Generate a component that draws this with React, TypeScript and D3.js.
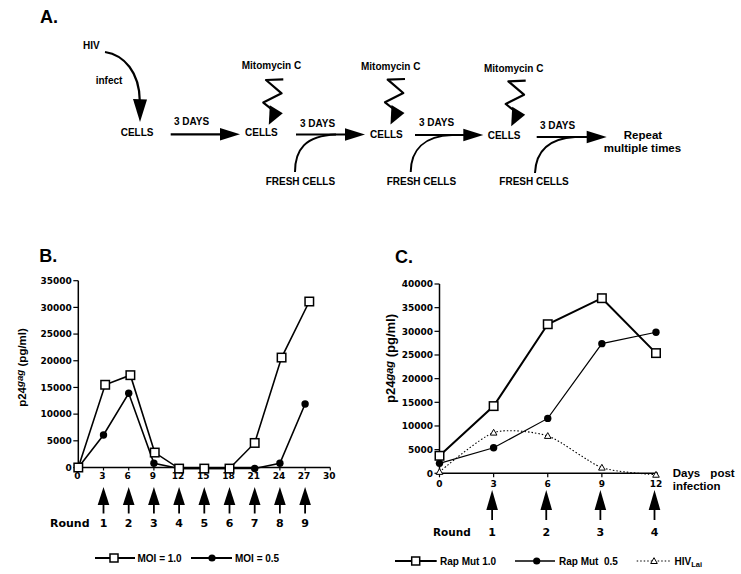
import React from "react";
import * as d3 from "d3";

const W = 741;
const H = 574;
const SANS = "'Liberation Sans', Arial, Helvetica, sans-serif";
const WIDE = "'DejaVu Sans', Verdana, sans-serif";

// ---------- Panel B data ----------
const bSquareDays = [0, 3.2, 6.2, 9.1, 12, 15, 18, 21, 24.2, 27.5];
const bMoi10 = [0, 15500, 17300, 2800, -200, -200, -200, 4600, 20600, 31100];
const bCircleDays = [0, 3, 6, 9, 12, 15, 18, 21, 24, 27];
const bMoi05 = [0, 6100, 13900, 800, -200, -200, -200, -200, 800, 11900];
const bXTicks = [0, 3, 6, 9, 12, 15, 18, 21, 24, 27, 30];
const bYTicks = [0, 5000, 10000, 15000, 20000, 25000, 30000, 35000];
const bRoundDays = [3, 6, 9, 12, 15, 18, 21, 24, 27];
const bRoundLabels = ["1", "2", "3", "4", "5", "6", "7", "8", "9"];
const bLegend = ["MOI = 1.0", "MOI = 0.5"];

// ---------- Panel C data ----------
const cDays = [0, 3, 6, 9, 12];
const cRap10 = [3700, 14200, 31500, 37000, 25400];
const cRap05 = [2100, 5400, 11600, 27400, 29800];
const cHivLai = [300, 8600, 7900, 1200, -300];
const cXTicks = [0, 3, 6, 9, 12];
const cYTicks = [0, 5000, 10000, 15000, 20000, 25000, 30000, 35000, 40000];
const cRoundDays = [3, 6, 9, 12];
const cRoundLabels = ["1", "2", "3", "4"];
const cLegend = ["Rap Mut 1.0", "Rap Mut  0.5", "HIV"];

// ---------- Panel A diagram text ----------
const cellsLabel = "CELLS";
const daysLabel = "3 DAYS";
const mitoLabel = "Mitomycin C";
const freshLabel = "FRESH CELLS";

// layout for panel A
const cellsPos = [
  [120.7, 136.3],
  [245, 136.3],
  [370, 137.6],
  [487.7, 138.6],
];
const daysPos = [
  [174, 125.3],
  [300, 127],
  [419, 126.3],
  [540, 129.3],
];
const arrowsA = [
  [170.7, 240, 134.3],
  [296, 365, 134.5],
  [415, 483.3, 135],
  [536.7, 606.7, 137],
];
const mitoPos = [
  [241.7, 69.3],
  [361, 70.3],
  [484, 72],
];
const zigAnchors = [
  [283.3, 79.3],
  [405, 79],
  [525.7, 80.7],
];
const freshPos = [
  [265.7, 184.6],
  [386.7, 184.6],
  [499.3, 185.3],
];
const freshCurves = [
  "M295,172 C295,150 305,135.5 336,134.5",
  "M410.7,172 C411,150 424,136 452,135",
  "M535,173 C536,151 549,138.5 575,137",
];

function HArrow({ x1, x2, y }: { x1: number; x2: number; y: number }) {
  return (
    <g>
      <line x1={x1} y1={y} x2={x2 - 16} y2={y} stroke="#000" strokeWidth={2.2} />
      <polygon points={`${x2},${y} ${x2 - 20},${y - 6.2} ${x2 - 20},${y + 6.2}`} fill="#000" />
    </g>
  );
}

function Zig({ ax, ay }: { ax: number; ay: number }) {
  const pts: [number, number][] = [
    [0, 0],
    [-17.3, 0.7],
    [-1.7, 14],
    [-20, 23.3],
    [-11.5, 30],
  ];
  const d = "M" + pts.map((p) => `${ax + p[0]},${ay + p[1]}`).join(" L");
  return (
    <g>
      <path d={d} fill="none" stroke="#000" strokeWidth={2.2} strokeLinejoin="round" />
      <polygon
        points={`${ax - 13.5},${ay + 26} ${ax - 0.5},${ay + 34} ${ax - 14.5},${ay + 45.5}`}
        fill="#000"
      />
    </g>
  );
}

function UpArrow({ x, tip, base, end }: { x: number; tip: number; base: number; end: number }) {
  return (
    <g>
      <line x1={x} y1={base - 1} x2={x} y2={end} stroke="#000" strokeWidth={1.8} />
      <polygon points={`${x},${tip} ${x - 5.8},${base} ${x + 5.8},${base}`} fill="#000" />
    </g>
  );
}

function Square({ x, y, s = 8.5 }: { x: number; y: number; s?: number }) {
  return (
    <rect x={x - s / 2} y={y - s / 2} width={s} height={s} fill="#fff" stroke="#000" strokeWidth={1.5} />
  );
}

function Dot({ x, y, r = 3.7 }: { x: number; y: number; r?: number }) {
  return <circle cx={x} cy={y} r={r} fill="#000" />;
}

function Tri({ x, y }: { x: number; y: number }) {
  return (
    <polygon
      points={`${x},${y - 3.3} ${x - 3.3},${y + 2.5} ${x + 3.3},${y + 2.5}`}
      fill="#fff"
      stroke="#000"
      strokeWidth={1}
    />
  );
}

function YLabel({ x, y, size }: { x: number; y: number; size: number }) {
  return (
    <text
      transform={`translate(${x},${y}) rotate(-90)`}
      textAnchor="middle"
      fontFamily={SANS}
      fontWeight="bold"
      fontSize={size}
    >
      p24
      <tspan fontStyle="italic" fontSize={size * 0.85} dy={-2.5}>
        gag
      </tspan>
      <tspan dy={2.5}> (pg/ml)</tspan>
    </text>
  );
}

function PanelA() {
  return (
    <g fontFamily={SANS} fontWeight="bold" fontSize={10}>
      <text x={40} y={22.7} fontSize={18}>
        A.
      </text>
      <text x={83} y={48.6}>HIV</text>
      <text x={95.7} y={84.3}>infect</text>
      <path d="M105,52 C124,55 139.5,72 139.8,101" fill="none" stroke="#000" strokeWidth={2.2} />
      <polygon points="133,99 147,99.5 140,122" fill="#000" />
      {cellsPos.map((p, i) => (
        <text key={"c" + i} x={p[0]} y={p[1]}>
          {cellsLabel}
        </text>
      ))}
      {daysPos.map((p, i) => (
        <text key={"d" + i} x={p[0]} y={p[1]}>
          {daysLabel}
        </text>
      ))}
      {arrowsA.map((a, i) => (
        <HArrow key={"a" + i} x1={a[0]} x2={a[1]} y={a[2]} />
      ))}
      {mitoPos.map((p, i) => (
        <text key={"m" + i} x={p[0]} y={p[1]}>
          {mitoLabel}
        </text>
      ))}
      {zigAnchors.map((p, i) => (
        <Zig key={"z" + i} ax={p[0]} ay={p[1]} />
      ))}
      {freshPos.map((p, i) => (
        <text key={"f" + i} x={p[0]} y={p[1]}>
          {freshLabel}
        </text>
      ))}
      {freshCurves.map((d, i) => (
        <path key={"fc" + i} d={d} fill="none" stroke="#000" strokeWidth={2} />
      ))}
      <text x={643} y={138.6} fontSize={11.5} textAnchor="middle">
        Repeat
      </text>
      <text x={642.5} y={151.8} fontSize={11.5} textAnchor="middle">
        multiple times
      </text>
    </g>
  );
}

function PanelB() {
  const x = d3.scaleLinear().domain([0, 30]).range([78.3, 330.3]);
  const y = d3.scaleLinear().domain([0, 35000]).range([467.5, 280.7]);
  const line10 = d3
    .line<number>()
    .x((_, i) => x(bSquareDays[i]))
    .y((v) => y(v));
  const line05 = d3
    .line<number>()
    .x((_, i) => x(bCircleDays[i]))
    .y((v) => y(v));
  const y0 = y(0);
  return (
    <g>
      <text x={39.3} y={261.7} fontFamily={SANS} fontWeight="bold" fontSize={18}>
        B.
      </text>
      <line x1={x(0)} y1={y(35000)} x2={x(0)} y2={y0} stroke="#000" strokeWidth={1.5} />
      <line x1={x(0)} y1={y0} x2={x(30)} y2={y0} stroke="#000" strokeWidth={1.5} />
      {bYTicks.map((t) => (
        <g key={"by" + t}>
          <line x1={x(0) - 5} x2={x(0)} y1={y(t)} y2={y(t)} stroke="#000" strokeWidth={1.2} />
          <text
            x={x(0) - 6.5}
            y={y(t) + 3.3}
            textAnchor="end"
            fontFamily={WIDE}
            fontWeight="bold"
            fontSize={9}
          >
            {t}
          </text>
        </g>
      ))}
      {bXTicks.map((t) => (
        <g key={"bx" + t}>
          <line x1={x(t)} x2={x(t)} y1={y0} y2={y0 + 3} stroke="#000" strokeWidth={1.2} />
          <text
            x={x(t) - 1}
            y={479.3}
            textAnchor="middle"
            fontFamily={WIDE}
            fontWeight="bold"
            fontSize={9}
          >
            {t}
          </text>
        </g>
      ))}
      <YLabel x={25.5} y={367.5} size={11.5} />
      <path d={line05(bMoi05) || ""} fill="none" stroke="#000" strokeWidth={1.6} />
      <path d={line10(bMoi10) || ""} fill="none" stroke="#000" strokeWidth={1.6} />
      {bMoi05.map((v, i) => (
        <Dot key={"bc" + i} x={x(bCircleDays[i])} y={y(v)} />
      ))}
      {bMoi10.map((v, i) => (
        <Square key={"bs" + i} x={x(bSquareDays[i])} y={y(v)} />
      ))}
      {bRoundDays.map((d, i) => (
        <g key={"br" + i}>
          <UpArrow x={x(d)} tip={487} base={505} end={513.5} />
          <text
            x={x(d)}
            y={527}
            textAnchor="middle"
            fontFamily={WIDE}
            fontWeight="bold"
            fontSize={11}
          >
            {bRoundLabels[i]}
          </text>
        </g>
      ))}
      <text x={50} y={527} fontFamily={WIDE} fontWeight="bold" fontSize={11}>
        Round
      </text>
      <g fontFamily={SANS} fontWeight="bold" fontSize={10}>
        <line x1={95} x2={135} y1={558} y2={558} stroke="#000" strokeWidth={1.8} />
        <Square x={114} y={558} s={8} />
        <text x={137.5} y={561.6}>
          {bLegend[0]}
        </text>
        <line x1={191} x2={232} y1={558} y2={558} stroke="#000" strokeWidth={1.8} />
        <Dot x={212} y={558} r={3.6} />
        <text x={235} y={561.6}>
          {bLegend[1]}
        </text>
      </g>
    </g>
  );
}

function PanelC() {
  const x = d3.scaleLinear().domain([0, 12]).range([439.5, 656]);
  const y = d3.scaleLinear().domain([0, 40000]).range([473.3, 284]);
  const mk = (curve: d3.CurveFactory) =>
    d3
      .line<number>()
      .x((_, i) => x(cDays[i]))
      .y((v) => y(v))
      .curve(curve);
  const lin = mk(d3.curveLinear);
  const smooth = mk(d3.curveCardinal.tension(0.3));
  const y0 = y(0);
  return (
    <g>
      <text x={395} y={263.3} fontFamily={SANS} fontWeight="bold" fontSize={18}>
        C.
      </text>
      <line x1={x(0)} y1={y(40000)} x2={x(0)} y2={y0} stroke="#000" strokeWidth={1.5} />
      <line x1={x(0)} y1={y0} x2={x(12) + 2} y2={y0} stroke="#000" strokeWidth={1.5} />
      {cYTicks.map((t) => (
        <g key={"cy" + t}>
          <line x1={x(0) - 5} x2={x(0)} y1={y(t)} y2={y(t)} stroke="#000" strokeWidth={1.2} />
          <text
            x={x(0) - 6.5}
            y={y(t) + 3.3}
            textAnchor="end"
            fontFamily={WIDE}
            fontWeight="bold"
            fontSize={9}
          >
            {t}
          </text>
        </g>
      ))}
      {cXTicks.map((t) => (
        <g key={"cx" + t}>
          <line x1={x(t)} x2={x(t)} y1={y0} y2={y0 + 4} stroke="#000" strokeWidth={1.2} />
          <text
            x={x(t)}
            y={487}
            textAnchor="middle"
            fontFamily={WIDE}
            fontWeight="bold"
            fontSize={9}
          >
            {t}
          </text>
        </g>
      ))}
      <g fontFamily={SANS} fontWeight="bold" fontSize={11.5}>
        <text x={672.7} y={477.3} wordSpacing={7}>
          Days post
        </text>
        <text x={672.7} y={490.3}>
          infection
        </text>
      </g>
      <YLabel x={395} y={358.5} size={13} />
      <path
        d={smooth(cHivLai) || ""}
        fill="none"
        stroke="#000"
        strokeWidth={1.1}
        strokeDasharray="1.5,2"
      />
      <path d={lin(cRap05) || ""} fill="none" stroke="#000" strokeWidth={1.2} />
      <path d={lin(cRap10) || ""} fill="none" stroke="#000" strokeWidth={2} />
      {cHivLai.map((v, i) => (
        <Tri key={"ct" + i} x={x(cDays[i])} y={y(v)} />
      ))}
      {cRap05.map((v, i) => (
        <Dot key={"cc" + i} x={x(cDays[i])} y={y(v)} />
      ))}
      {cRap10.map((v, i) => (
        <Square key={"cs" + i} x={x(cDays[i])} y={y(v)} />
      ))}
      {cRoundDays.map((d, i) => (
        <g key={"cr" + i}>
          <UpArrow x={x(d) - 1.5} tip={490} base={510} end={520} />
          <text
            x={x(d) - 1.5}
            y={535.7}
            textAnchor="middle"
            fontFamily={WIDE}
            fontWeight="bold"
            fontSize={11}
          >
            {cRoundLabels[i]}
          </text>
        </g>
      ))}
      <text x={433} y={535.7} fontFamily={WIDE} fontWeight="bold" fontSize={10.5}>
        Round
      </text>
      <g fontFamily={SANS} fontWeight="bold" fontSize={10}>
        <line x1={395} x2={436.7} y1={561} y2={561} stroke="#000" strokeWidth={2} />
        <Square x={415.7} y={561} s={8} />
        <text x={440} y={564.6} style={{ whiteSpace: "pre" }}>
          {cLegend[0]}
        </text>
        <line x1={515} x2={555} y1={561} y2={561} stroke="#000" strokeWidth={1.3} />
        <Dot x={536.7} y={561} r={3.6} />
        <text x={559} y={564.6} style={{ whiteSpace: "pre" }}>
          {cLegend[1]}
        </text>
        <line
          x1={636.7}
          x2={671.7}
          y1={561}
          y2={561}
          stroke="#000"
          strokeWidth={1.2}
          strokeDasharray="1.5,2"
        />
        <Tri x={654} y={561} />
        <text x={674.5} y={564.6}>
          {cLegend[2]}
          <tspan fontSize={7.5} dy={2.5}>
            Lai
          </tspan>
        </text>
      </g>
    </g>
  );
}

export default function App() {
  return (
    <svg
      width={W}
      height={H}
      viewBox={`0 0 ${W} ${H}`}
      style={{ position: "absolute", left: 0, top: 0, background: "#fff" }}
    >
      <rect x={0} y={0} width={W} height={H} fill="#fff" />
      <PanelA />
      <PanelB />
      <PanelC />
    </svg>
  );
}
